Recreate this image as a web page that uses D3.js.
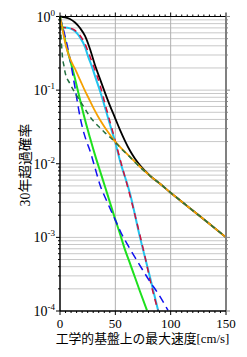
<!DOCTYPE html>
<html>
<head>
  <meta charset="utf-8">
  <script src="https://d3js.org/d3.v7.min.js"></script>
  <style>
    body { margin: 0; background: #fff; }
    .grid line { stroke: #c8c8c8; stroke-width: 1; }
    .vgrid line { stroke: #b0b0b0; stroke-width: 1; }
    text { font-family: "Liberation Serif", "Noto Sans CJK JP", serif; fill: #000; }
  </style>
</head>
<body>
<div id="chart"></div>
<script>
  // values: [velocity cm/s, 30-year exceedance probability]
  let tailCurve = [[90.4,0.00535],[99.4,0.00411],[108.4,0.0032],[117.4,0.00249],[126.5,0.00194],[135.5,0.00151],[150,0.001]];
  let totalCurve = [[0,1],[4.5,0.975],[9,0.925],[13.6,0.829],[18.1,0.698],[22.6,0.544],[27.1,0.362],[31.6,0.22],[36.1,0.142],[40.7,0.0918],[45.2,0.0611],[49.7,0.0421],[54.2,0.0289],[58.7,0.0205],[63.3,0.015],[67.8,0.0117],[72.3,0.00955],[76.8,0.00804],[81.3,0.00687]];
  let orangeCurve = [[0,1],[1.8,0.721],[3.6,0.527],[5.4,0.398],[7.2,0.32],[9,0.27],[10.8,0.234],[13.6,0.194],[18.1,0.138],[22.6,0.0977],[27.1,0.0715],[31.6,0.0523],[36.1,0.0395],[40.7,0.0308],[45.2,0.0247],[49.7,0.0201],[54.2,0.017],[63.3,0.0124],[72.3,0.0091],[81.3,0.00687]];
  let darkGreenCurve = [[0,1],[0.6,0.656],[1.4,0.411],[2.3,0.274],[3.6,0.213],[4.5,0.177],[9,0.122],[13.6,0.0918],[18.1,0.0715],[22.6,0.0557],[27.1,0.0434],[31.6,0.036],[36.1,0.0308],[40.7,0.0263],[45.2,0.0229],[49.7,0.0199],[54.2,0.0167],[63.3,0.0123],[72.3,0.00897],[81.3,0.00687]];
  let cyanCurve = [[0,0.71],[4.5,0.71],[9,0.69],[13.6,0.63],[18.1,0.52],[22.6,0.386],[25.3,0.29],[28.9,0.207],[32.5,0.142],[36.1,0.098],[41.3,0.054],[45.2,0.0338],[49.7,0.02],[54.2,0.011],[63.3,0.0039],[72.3,0.001],[81.3,0.00029],[88.8,0.0001]];
  let redCurve = [[0,0.714],[9,0.694],[13.6,0.646],[18.1,0.553],[22.6,0.424],[27.1,0.287],[31.6,0.188],[36.1,0.118],[41.3,0.0602],[45.2,0.0371],[49.7,0.0211],[54.2,0.0117],[63.3,0.00368],[72.3,0.00106],[76.8,0.000548],[81.3,0.000267],[85.8,0.000143],[88.6,0.000102]];
  let greenCurve = [[0,1],[2.7,0.656],[5.4,0.424],[8.1,0.291],[10.8,0.207],[14.5,0.125],[18.1,0.0738],[22.6,0.0395],[27.1,0.0225],[31.6,0.0132],[36.1,0.00804],[40.7,0.00488],[45.2,0.00296],[49.7,0.0018],[54.2,0.00112],[58.7,0.000682],[63.3,0.000441],[67.8,0.000285],[72.3,0.000184],[78.6,0.000102]];
  let blueCurve = [[0,0.98],[2.7,0.698],[5.4,0.48],[8.1,0.31],[10.8,0.188],[13.6,0.107],[16.3,0.0611],[18.1,0.0434],[20.8,0.0289],[23.5,0.0211],[27.1,0.015],[31.6,0.00883],[36.1,0.00519],[42.5,0.00305],[50.2,0.00169],[55.6,0.00112],[62.3,0.000738],[70.9,0.000448],[80.4,0.000263],[90.4,0.000157],[97.6,0.000102]];

  let xTicks = [0, 50, 100, 150];
  let yDecades = [0, -1, -2, -3, -4];
  let xTitle = "工学的基盤上の最大速度[cm/s]";
  let yTitle = "30年超過確率";

  let width = 247, height = 357;
  let margin = {top: 16.5, right: 21, bottom: 46, left: 60};

  let x = d3.scaleLinear().domain([0, 150]).range([margin.left, width - margin.right]);
  let y = d3.scaleLog().domain([1e-4, 1]).range([height - margin.bottom, margin.top]);

  let svg = d3.select("#chart").append("svg")
    .attr("width", width)
    .attr("height", height);

  // minor gridlines 1..9 x 10^k
  let minorVals = [];
  for (let k = -4; k < 0; k++) for (let m = 1; m < 10; m++) minorVals.push(m * Math.pow(10, k));

  svg.append("g").attr("class", "grid")
    .selectAll("line").data(minorVals.filter(v => v > 1e-4)).enter().append("line")
    .attr("x1", x(0)).attr("x2", x(150))
    .attr("y1", d => y(d)).attr("y2", d => y(d));

  svg.append("g").attr("class", "vgrid")
    .selectAll("line").data([50, 100]).enter().append("line")
    .attr("x1", d => x(d)).attr("x2", d => x(d))
    .attr("y1", y(1)).attr("y2", y(1e-4));

  // ticks on top/bottom (every 5) and left/right (minor)
  let xMinor = d3.range(0, 151, 5);
  let tk = svg.append("g").attr("stroke", "#000").attr("stroke-width", 1);
  tk.selectAll(".tt").data(xMinor).enter().append("line")
    .attr("x1", d => x(d)).attr("x2", d => x(d))
    .attr("y1", y(1)).attr("y2", d => y(1) - (d % 50 === 0 ? 4 : 2));
  tk.selectAll(".bt").data(xMinor).enter().append("line")
    .attr("x1", d => x(d)).attr("x2", d => x(d))
    .attr("y1", y(1e-4)).attr("y2", d => y(1e-4) + (d % 50 === 0 ? 4 : 2));
  tk.selectAll(".lt").data(minorVals.concat([1])).enter().append("line")
    .attr("y1", d => y(d)).attr("y2", d => y(d))
    .attr("x1", x(0)).attr("x2", d => x(0) - (Math.abs(Math.log10(d) % 1) < 1e-9 ? 4 : 2));
  svg.append("g").attr("stroke", "#888").attr("stroke-width", 1)
    .selectAll("line").data(minorVals.concat([1])).enter().append("line")
    .attr("y1", d => y(d)).attr("y2", d => y(d))
    .attr("x1", x(150)).attr("x2", d => x(150) + (Math.abs(Math.log10(d) % 1) < 1e-9 ? 4 : 2));

  // curves
  let line = d3.line()
    .x(d => x(d[0]))
    .y(d => y(d[1]))
    .curve(d3.curveMonotoneX);

  let series = [
    {data: totalCurve.concat(tailCurve), color: "#000", w: 1.8, dash: null},
    {data: cyanCurve, color: "#22c4ee", w: 2, dash: null},
    {data: redCurve, color: "#d0103a", w: 1.5, dash: "6,5"},
    {data: greenCurve, color: "#1ee01e", w: 2, dash: null},
    {data: blueCurve, color: "#1010f0", w: 1.5, dash: "8,5"},
    {data: orangeCurve.concat(tailCurve), color: "#f5a000", w: 1.8, dash: null},
    {data: darkGreenCurve.concat(tailCurve), color: "#237040", w: 1.5, dash: "5,4"}
  ];

  svg.append("g").selectAll("path").data(series).enter().append("path")
    .attr("fill", "none")
    .attr("stroke", d => d.color)
    .attr("stroke-width", d => d.w)
    .attr("stroke-dasharray", d => d.dash)
    .attr("d", d => line(d.data));

  // frame
  svg.append("line").attr("x1", x(0)).attr("x2", x(150)).attr("y1", y(1)).attr("y2", y(1))
    .attr("stroke", "#000").attr("stroke-width", 1);
  svg.append("line").attr("x1", x(150)).attr("x2", x(150)).attr("y1", y(1)).attr("y2", y(1e-4))
    .attr("stroke", "#808080").attr("stroke-width", 2);
  svg.append("line").attr("x1", x(0)).attr("x2", x(150)).attr("y1", y(1e-4)).attr("y2", y(1e-4))
    .attr("stroke", "#000").attr("stroke-width", 1.5);
  svg.append("line").attr("x1", x(0)).attr("x2", x(0)).attr("y1", y(1)).attr("y2", y(1e-4))
    .attr("stroke", "#000").attr("stroke-width", 1.5);

  // y tick labels 10^k
  let yl = svg.append("g").selectAll("text").data(yDecades).enter().append("text")
    .attr("x", x(0) - 5)
    .attr("y", d => y(Math.pow(10, d)) + 5)
    .attr("text-anchor", "end")
    .attr("font-size", 14);
  yl.append("tspan").text("10");
  yl.append("tspan").attr("dy", -6).attr("font-size", 9).text(d => String(d));

  // x tick labels
  svg.append("g").selectAll("text").data(xTicks).enter().append("text")
    .attr("x", d => x(d))
    .attr("y", 328)
    .attr("text-anchor", "middle")
    .attr("font-size", 13)
    .text(d => d);

  svg.append("text")
    .attr("x", 142.5).attr("y", 343)
    .attr("text-anchor", "middle")
    .attr("font-size", 12.8)
    .text(xTitle);

  svg.append("text")
    .attr("transform", "translate(30,165) rotate(-90)")
    .attr("text-anchor", "middle")
    .attr("font-size", 13.8)
    .text(yTitle);
</script>
</body>
</html>
